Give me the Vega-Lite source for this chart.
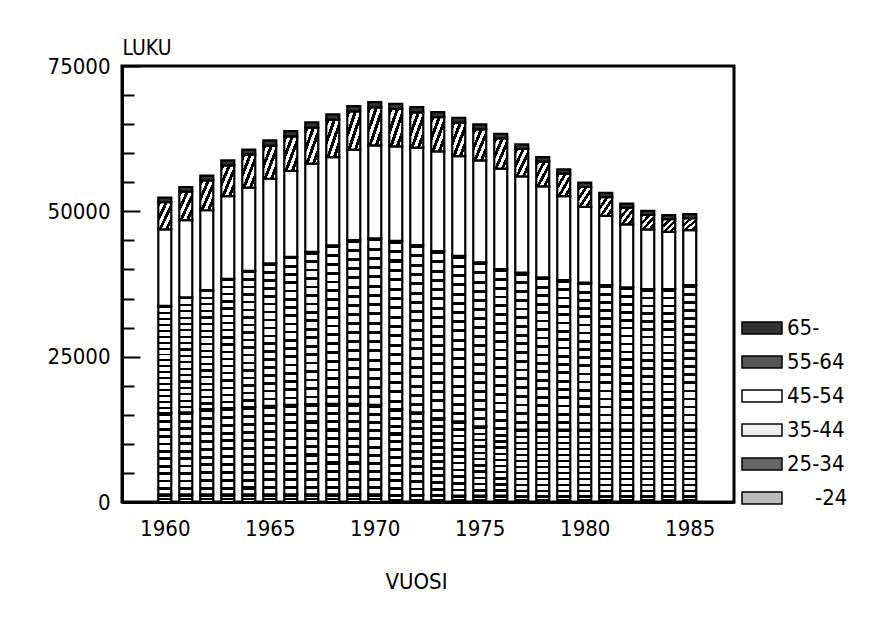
{
  "$schema": "https://vega.github.io/schema/vega-lite/v6.json",
  "width": 612,
  "height": 436,
  "autosize": {"type": "none"},
  "padding": {"left": 122, "top": 66, "right": 144, "bottom": 116},
  "background": "white",
  "data": {
    "values": [
      {"year": 1960, "-24": 1300, "25-34": 14010, "35-44": 18410, "45-54": 13160, "55-64": 4690, "65-": 800},
      {"year": 1961, "-24": 1300, "25-34": 14110, "35-44": 19800, "45-54": 13270, "55-64": 4910, "65-": 800},
      {"year": 1962, "-24": 1300, "25-34": 14690, "35-44": 20480, "45-54": 13720, "55-64": 5110, "65-": 850},
      {"year": 1963, "-24": 1300, "25-34": 14860, "35-44": 22240, "45-54": 14200, "55-64": 5320, "65-": 850},
      {"year": 1964, "-24": 1300, "25-34": 15040, "35-44": 23440, "45-54": 14310, "55-64": 5670, "65-": 850},
      {"year": 1965, "-24": 1300, "25-34": 15260, "35-44": 24490, "45-54": 14520, "55-64": 5730, "65-": 900},
      {"year": 1966, "-24": 1300, "25-34": 15430, "35-44": 25450, "45-54": 14760, "55-64": 5960, "65-": 900},
      {"year": 1967, "-24": 1300, "25-34": 15550, "35-44": 26190, "45-54": 15160, "55-64": 6190, "65-": 900},
      {"year": 1968, "-24": 1300, "25-34": 15600, "35-44": 27230, "45-54": 15210, "55-64": 6430, "65-": 900},
      {"year": 1969, "-24": 1300, "25-34": 15600, "35-44": 28150, "45-54": 15560, "55-64": 6580, "65-": 900},
      {"year": 1970, "-24": 1300, "25-34": 15430, "35-44": 28610, "45-54": 16010, "55-64": 6530, "65-": 900},
      {"year": 1971, "-24": 1200, "25-34": 14790, "35-44": 28940, "45-54": 16240, "55-64": 6430, "65-": 900},
      {"year": 1972, "-24": 1200, "25-34": 14210, "35-44": 28780, "45-54": 16760, "55-64": 6070, "65-": 900},
      {"year": 1973, "-24": 1200, "25-34": 13250, "35-44": 28710, "45-54": 17160, "55-64": 5890, "65-": 850},
      {"year": 1974, "-24": 1100, "25-34": 12770, "35-44": 28480, "45-54": 17160, "55-64": 5740, "65-": 850},
      {"year": 1975, "-24": 1100, "25-34": 11910, "35-44": 28210, "45-54": 17550, "55-64": 5330, "65-": 850},
      {"year": 1976, "-24": 1100, "25-34": 11630, "35-44": 27340, "45-54": 17280, "55-64": 5200, "65-": 800},
      {"year": 1977, "-24": 1000, "25-34": 11440, "35-44": 27000, "45-54": 16590, "55-64": 4690, "65-": 800},
      {"year": 1978, "-24": 1000, "25-34": 11440, "35-44": 26200, "45-54": 15670, "55-64": 4230, "65-": 800},
      {"year": 1979, "-24": 1000, "25-34": 11440, "35-44": 25740, "45-54": 14420, "55-64": 3880, "65-": 750},
      {"year": 1980, "-24": 1000, "25-34": 11440, "35-44": 25280, "45-54": 13040, "55-64": 3430, "65-": 750},
      {"year": 1981, "-24": 1000, "25-34": 11440, "35-44": 24880, "45-54": 11900, "55-64": 3240, "65-": 700},
      {"year": 1982, "-24": 1000, "25-34": 11440, "35-44": 24490, "45-54": 10810, "55-64": 2900, "65-": 700},
      {"year": 1983, "-24": 1000, "25-34": 11440, "35-44": 24200, "45-54": 10240, "55-64": 2490, "65-": 700},
      {"year": 1984, "-24": 1000, "25-34": 11440, "35-44": 24200, "45-54": 9830, "55-64": 2170, "65-": 700},
      {"year": 1985, "-24": 1000, "25-34": 11440, "35-44": 24880, "45-54": 9440, "55-64": 2050, "65-": 700}
    ]
  },
  "transform": [
    {"fold": ["-24", "25-34", "35-44", "45-54", "55-64", "65-"], "as": ["age", "n"]}
  ],
  "encoding": {
    "x": {
      "field": "year",
      "type": "quantitative",
      "scale": {"domain": [1958.2, 1986.87], "nice": false, "zero": false},
      "axis": {
        "values": [1960, 1965, 1970, 1975, 1980, 1985],
        "format": "d",
        "ticks": false,
        "grid": false,
        "labelPadding": 16,
        "labelOffset": 0,
        "labelFontSize": 22,
        "labelColor": "black",
        "domainColor": "black",
        "domainWidth": 3,
        "title": "VUOSI",
        "titleFontSize": 22,
        "titleFontWeight": "normal",
        "titleColor": "black",
        "titleX": 294,
        "titleY": 86,
        "titleAlign": "center",
        "titleBaseline": "alphabetic"
      }
    },
    "y": {
      "field": "n",
      "type": "quantitative",
      "stack": "zero",
      "scale": {"domain": [0, 75000], "nice": false},
      "axis": {
        "values": [0, 5000, 10000, 15000, 20000, 25000, 30000, 35000, 40000, 45000, 50000, 55000, 60000, 65000, 70000, 75000],
        "format": "d",
        "labelExpr": "datum.value % 25000 == 0 ? datum.label : ''",
        "labelOverlap": false,
        "grid": false,
        "tickSize": {"condition": {"test": "datum.value % 25000 == 0", "value": -18}, "value": -12},
        "tickWidth": 2,
        "tickColor": "black",
        "labelPadding": 30,
        "labelFontSize": 22,
        "labelColor": "black",
        "domainColor": "black",
        "domainWidth": 3,
        "title": "LUKU",
        "titleAngle": 0,
        "titleX": 0,
        "titleY": -8,
        "titleAlign": "left",
        "titleBaseline": "bottom",
        "titleFontSize": 21,
        "titleFontWeight": "normal",
        "titleColor": "black"
      }
    },
    "order": {"field": "age", "sort": "ascending"}
  },
  "layer": [
    {
      "mark": {"type": "bar", "size": 13},
      "encoding": {
        "color": {
          "field": "age",
          "type": "nominal",
          "scale": {
            "domain": ["65-", "55-64", "45-54", "35-44", "25-34", "-24"],
            "range": ["#333333", "#555555", "white", "#eeeeee", "#666666", "#bbbbbb"]
          },
          "legend": {
            "title": null,
            "orient": "none",
            "legendX": 629,
            "legendY": 251,
            "padding": 0,
            "symbolType": "M-2,-0.6H2V0.6H-2Z",
            "symbolSize": 400,
            "symbolStrokeColor": "black",
            "symbolStrokeWidth": 1.5,
            "labelFontSize": 22,
            "labelColor": "black",
            "labelOffset": 14,
            "rowPadding": 12,
            "encode": {
              "labels": {
                "update": {
                  "dx": {"signal": "datum.value == '-24' ? 28 : 0"}
                }
              }
            }
          }
        }
      }
    },
    {
      "mark": {"type": "bar", "size": 13, "stroke": "black", "strokeWidth": 2.2},
      "encoding": {
        "detail": {"field": "age", "type": "nominal"},
        "fill": {
          "condition": [
            {"test": "datum.age == '65-'", "value": "#333333"},
            {"test": "datum.age == '55-64'", "value": {"gradient": "linear", "x1": 0, "y1": 0, "x2": 1, "y2": 1, "stops": [
              {"offset": 0, "color": "black"}, {"offset": 0.125, "color": "black"}, {"offset": 0.125, "color": "white"}, {"offset": 0.25, "color": "white"},
              {"offset": 0.25, "color": "black"}, {"offset": 0.375, "color": "black"}, {"offset": 0.375, "color": "white"}, {"offset": 0.5, "color": "white"},
              {"offset": 0.5, "color": "black"}, {"offset": 0.625, "color": "black"}, {"offset": 0.625, "color": "white"}, {"offset": 0.75, "color": "white"},
              {"offset": 0.75, "color": "black"}, {"offset": 0.875, "color": "black"}, {"offset": 0.875, "color": "white"}, {"offset": 1, "color": "white"}
            ]}},
            {"test": "datum.age == '35-44'", "value": {"gradient": "linear", "x1": 0, "y1": 0, "x2": 0, "y2": 1, "stops": [
              {"offset": 0, "color": "black"}, {"offset": 0.018, "color": "black"}, {"offset": 0.018, "color": "white"}, {"offset": 0.0556, "color": "white"},
              {"offset": 0.0556, "color": "black"}, {"offset": 0.0736, "color": "black"}, {"offset": 0.0736, "color": "white"}, {"offset": 0.1111, "color": "white"},
              {"offset": 0.1111, "color": "black"}, {"offset": 0.1291, "color": "black"}, {"offset": 0.1291, "color": "white"}, {"offset": 0.1667, "color": "white"},
              {"offset": 0.1667, "color": "black"}, {"offset": 0.1847, "color": "black"}, {"offset": 0.1847, "color": "white"}, {"offset": 0.2222, "color": "white"},
              {"offset": 0.2222, "color": "black"}, {"offset": 0.2402, "color": "black"}, {"offset": 0.2402, "color": "white"}, {"offset": 0.2778, "color": "white"},
              {"offset": 0.2778, "color": "black"}, {"offset": 0.2958, "color": "black"}, {"offset": 0.2958, "color": "white"}, {"offset": 0.3333, "color": "white"},
              {"offset": 0.3333, "color": "black"}, {"offset": 0.3513, "color": "black"}, {"offset": 0.3513, "color": "white"}, {"offset": 0.3889, "color": "white"},
              {"offset": 0.3889, "color": "black"}, {"offset": 0.4069, "color": "black"}, {"offset": 0.4069, "color": "white"}, {"offset": 0.4444, "color": "white"},
              {"offset": 0.4444, "color": "black"}, {"offset": 0.4624, "color": "black"}, {"offset": 0.4624, "color": "white"}, {"offset": 0.5, "color": "white"},
              {"offset": 0.5, "color": "black"}, {"offset": 0.518, "color": "black"}, {"offset": 0.518, "color": "white"}, {"offset": 0.5556, "color": "white"},
              {"offset": 0.5556, "color": "black"}, {"offset": 0.5736, "color": "black"}, {"offset": 0.5736, "color": "white"}, {"offset": 0.6111, "color": "white"},
              {"offset": 0.6111, "color": "black"}, {"offset": 0.6291, "color": "black"}, {"offset": 0.6291, "color": "white"}, {"offset": 0.6667, "color": "white"},
              {"offset": 0.6667, "color": "black"}, {"offset": 0.6847, "color": "black"}, {"offset": 0.6847, "color": "white"}, {"offset": 0.7222, "color": "white"},
              {"offset": 0.7222, "color": "black"}, {"offset": 0.7402, "color": "black"}, {"offset": 0.7402, "color": "white"}, {"offset": 0.7778, "color": "white"},
              {"offset": 0.7778, "color": "black"}, {"offset": 0.7958, "color": "black"}, {"offset": 0.7958, "color": "white"}, {"offset": 0.8333, "color": "white"},
              {"offset": 0.8333, "color": "black"}, {"offset": 0.8513, "color": "black"}, {"offset": 0.8513, "color": "white"}, {"offset": 0.8889, "color": "white"},
              {"offset": 0.8889, "color": "black"}, {"offset": 0.9069, "color": "black"}, {"offset": 0.9069, "color": "white"}, {"offset": 0.9444, "color": "white"},
              {"offset": 0.9444, "color": "black"}, {"offset": 0.9624, "color": "black"}, {"offset": 0.9624, "color": "white"}, {"offset": 1, "color": "white"}
            ]}},
            {"test": "datum.age == '25-34'", "value": {"gradient": "linear", "x1": 0, "y1": 0, "x2": 0, "y2": 1, "stops": [
              {"offset": 0, "color": "black"}, {"offset": 0.035, "color": "black"}, {"offset": 0.035, "color": "white"}, {"offset": 0.0909, "color": "white"},
              {"offset": 0.0909, "color": "black"}, {"offset": 0.1259, "color": "black"}, {"offset": 0.1259, "color": "white"}, {"offset": 0.1818, "color": "white"},
              {"offset": 0.1818, "color": "black"}, {"offset": 0.2168, "color": "black"}, {"offset": 0.2168, "color": "white"}, {"offset": 0.2727, "color": "white"},
              {"offset": 0.2727, "color": "black"}, {"offset": 0.3077, "color": "black"}, {"offset": 0.3077, "color": "white"}, {"offset": 0.3636, "color": "white"},
              {"offset": 0.3636, "color": "black"}, {"offset": 0.3986, "color": "black"}, {"offset": 0.3986, "color": "white"}, {"offset": 0.4545, "color": "white"},
              {"offset": 0.4545, "color": "black"}, {"offset": 0.4895, "color": "black"}, {"offset": 0.4895, "color": "white"}, {"offset": 0.5455, "color": "white"},
              {"offset": 0.5455, "color": "black"}, {"offset": 0.5805, "color": "black"}, {"offset": 0.5805, "color": "white"}, {"offset": 0.6364, "color": "white"},
              {"offset": 0.6364, "color": "black"}, {"offset": 0.6714, "color": "black"}, {"offset": 0.6714, "color": "white"}, {"offset": 0.7273, "color": "white"},
              {"offset": 0.7273, "color": "black"}, {"offset": 0.7623, "color": "black"}, {"offset": 0.7623, "color": "white"}, {"offset": 0.8182, "color": "white"},
              {"offset": 0.8182, "color": "black"}, {"offset": 0.8532, "color": "black"}, {"offset": 0.8532, "color": "white"}, {"offset": 0.9091, "color": "white"},
              {"offset": 0.9091, "color": "black"}, {"offset": 0.9441, "color": "black"}, {"offset": 0.9441, "color": "white"}, {"offset": 1, "color": "white"}
            ]}},
            {"test": "datum.age == '-24'", "value": {"gradient": "linear", "x1": 0, "y1": 0, "x2": 0, "y2": 1, "stops": [
              {"offset": 0, "color": "black"}, {"offset": 0.3, "color": "black"}, {"offset": 0.3, "color": "white"}, {"offset": 0.5, "color": "white"},
              {"offset": 0.5, "color": "black"}, {"offset": 0.8, "color": "black"}, {"offset": 0.8, "color": "white"}, {"offset": 1, "color": "white"}
            ]}}
          ],
          "value": "white"
        }
      }
    }
  ],
  "config": {
    "font": "DejaVu Sans Condensed, DejaVu Sans",
    "view": {"stroke": "black", "strokeWidth": 3}
  }
}
